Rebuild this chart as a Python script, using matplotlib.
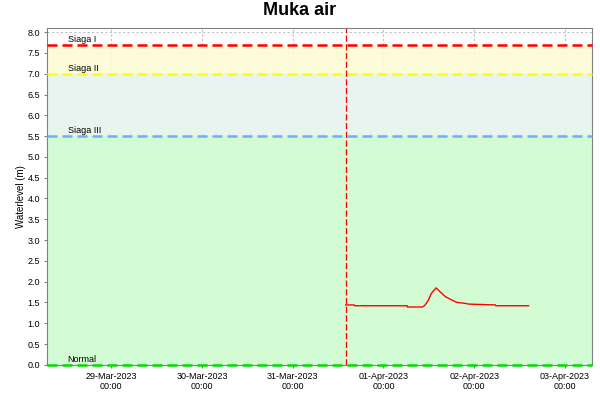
import matplotlib
matplotlib.use("Agg")
import matplotlib.pyplot as plt
import matplotlib.dates as mdates
import pandas as pd

plt.rcParams['font.family'] = ['Liberation Sans', 'DejaVu Sans']

# water level readings (time, metres)
times = pd.to_datetime([
    "2023-03-31 14:00", "2023-03-31 16:15", "2023-03-31 16:20", "2023-04-01 06:15",
    "2023-04-01 06:20", "2023-04-01 10:20", "2023-04-01 10:55", "2023-04-01 11:50",
    "2023-04-01 12:40", "2023-04-01 13:55", "2023-04-01 14:55", "2023-04-01 16:20",
    "2023-04-01 18:00", "2023-04-01 19:25", "2023-04-01 21:25", "2023-04-01 22:30",
    "2023-04-02 05:35", "2023-04-02 05:40", "2023-04-02 14:20",
])
levels = [1.44, 1.44, 1.42, 1.42, 1.39, 1.39, 1.43, 1.55, 1.72, 1.85, 1.76, 1.64,
          1.56, 1.50, 1.48, 1.46, 1.44, 1.42, 1.42]

# alert thresholds
thr_names = ["Siaga I", "Siaga II", "Siaga III", "Normal"]
thr_values = [7.7, 7.0, 5.5, 0.0]
thr_colors = ["#ff0000", "#ffff00", "#66b0ff", "#00dd00"]
band_colors = ["#ffffff", "#fcfcd4", "#e8f4f0", "#d4fcd4"]
band_alpha = [0.0, 0.9, 0.93, 1.0]

now = pd.Timestamp("2023-03-31 14:00")
x_start = pd.Timestamp("2023-03-28 07:00")
x_end = pd.Timestamp("2023-04-03 07:10")
y_top = 8.1

fig = plt.figure(figsize=(6, 4), dpi=100)
ax = fig.add_axes([0.078, 0.088, 0.909, 0.842])
ax.set_axisbelow(True)

# background bands between thresholds (grid shows through the lighter ones)
edges = [y_top] + thr_values
for i in range(len(thr_values)):
    ax.axhspan(edges[i + 1], edges[i], color=band_colors[i], alpha=band_alpha[i],
               zorder=1, lw=0)

ax.grid(True, color="#c0c0c0", linestyle=(0, (2, 2)), linewidth=0.8)

for name, val, col in zip(thr_names, thr_values, thr_colors):
    ax.axhline(val, color=col, linestyle=(0, (4, 2)), linewidth=1.8, zorder=6,
               clip_on=False)
    ax.text(mdates.date2num(pd.Timestamp("2023-03-28 12:30")), val + 0.02, name,
            fontsize=6.5, va="bottom", ha="left", zorder=4)

ax.axvline(now, color="#ff0000", linestyle=(0, (5, 2)), linewidth=0.9, zorder=3)
ax.plot(times, levels, color="#ff0000", linewidth=1.0, zorder=4)

ax.set_xlim(x_start, x_end)
ax.set_ylim(0, y_top)
ax.set_yticks([i * 0.5 for i in range(17)])
ax.yaxis.set_major_formatter(plt.FormatStrFormatter("%.1f"))
ax.xaxis.set_major_locator(mdates.DayLocator())
ax.xaxis.set_major_formatter(mdates.DateFormatter("%d-%b-%Y\n%H:%M"))
ax.tick_params(labelsize=6.5, length=2, color="#808080", pad=3)
for lab in ax.get_xticklabels():
    lab.set_horizontalalignment("center")
for s in ax.spines.values():
    s.set_color("#808080")
    s.set_zorder(5)

ax.set_ylabel("Waterlevel (m)", fontsize=7, labelpad=1)
fig.suptitle("Muka air", fontsize=13, fontweight="bold", y=0.995)

fig.savefig("out.png", dpi=100)
